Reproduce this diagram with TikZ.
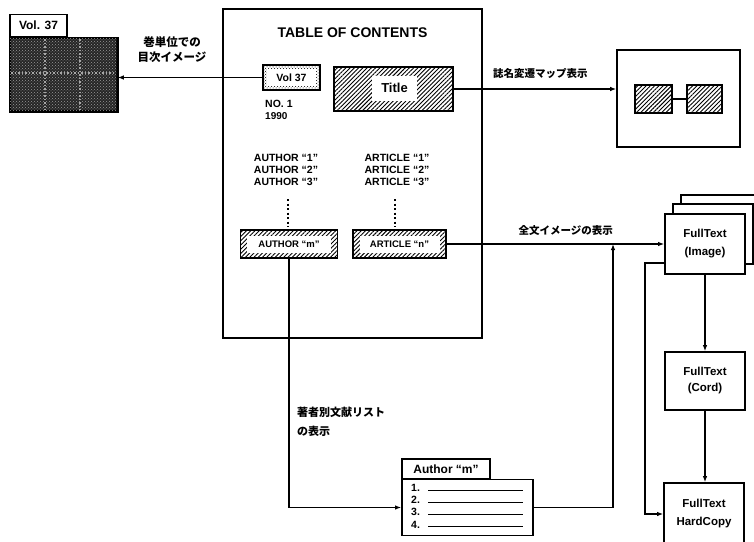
\documentclass[tikz,border=0pt]{standalone}
\usepackage{fontspec}
\setmainfont{Liberation Sans}
\newfontfamily\cjk{Noto Sans CJK JP}
\usetikzlibrary{patterns,patterns.meta,arrows.meta}
\begin{document}
\begin{tikzpicture}[x=1pt,y=-1pt,
  lbl/.style={font=\bfseries\fontsize{10.5}{12}\selectfont, inner sep=0},
  jp/.style={font=\cjk\bfseries\fontsize{10.5}{15}\selectfont, inner sep=0},
  conn/.style={line width=1.1pt},
  arr/.style={conn,-{Latex[length=6pt,width=4.5pt]}},
  box/.style={draw, line width=1.8pt, fill=white, inner sep=0},
  hbox/.style={draw, line width=1.8pt, pattern={Lines[angle=45,distance=3pt,line width=0.9pt]}, inner sep=0},
  inwhite/.style={fill=white, inner sep=0},
]
\useasboundingbox (0,0) rectangle (754,541);
\clip (0,0) rectangle (754,541);

% ---- Vol. 37 volume block (top left)
\node[draw, line width=1.5pt, fill=black!85, minimum width=107pt, minimum height=73pt, inner sep=0] (volblk) at (63.5,74.5) {};
\fill[pattern=crosshatch dots, pattern color=black!40] (volblk.south west) rectangle (volblk.north east);
\draw[black!35, line width=1.5pt, dotted] (45,39) -- (45,110) (80,39) -- (80,110) (11,73) -- (116,73);
\draw[line width=1.5pt] (volblk.south west) rectangle (volblk.north east);
\node[box, line width=1.5pt, minimum width=57pt, minimum height=22pt, anchor=south west, font=\bfseries\fontsize{12}{14}\selectfont] (voltab) at (volblk.north west) {Vol. 37};

% ---- Table of contents frame
\node[draw, line width=2pt, minimum width=259pt, minimum height=329pt, inner sep=0] (toc) at (352.5,173.5) {};
\node[font=\bfseries\fontsize{14}{16}\selectfont, inner sep=0] (toctitle) at (352.5,33) {TABLE OF CONTENTS};

% Vol 37 small box
\node[draw, line width=1.6pt, pattern=crosshatch dots, minimum width=57pt, minimum height=25pt, inner sep=0] (volsm) at (291.5,77.5) {};
\node[inwhite, minimum width=49pt, minimum height=17pt, font=\bfseries\fontsize{10.5}{12}\selectfont] (volsmt) at (volsm.center) {Vol 37};
\node[lbl, anchor=west, font=\bfseries\fontsize{10.5}{12}\selectfont] (no1) at (265,104) {NO. 1};
\node[lbl, anchor=west, font=\bfseries\fontsize{10}{12}\selectfont] (yr) at (265,116) {1990};

% Title box
\node[hbox, minimum width=119pt, minimum height=44pt] (titlebox) at (393.5,89) {};
\node[inwhite, minimum width=45pt, minimum height=25pt, font=\bfseries\fontsize{13}{15}\selectfont] (titletxt) at (394.5,88) {Title};

% Authors / articles
\node[lbl, align=center] (auth) at (286,170) {AUTHOR ``1''\\AUTHOR ``2''\\AUTHOR ``3''};
\node[lbl, align=center] (arts) at (397,170) {ARTICLE ``1''\\ARTICLE ``2''\\ARTICLE ``3''};
\coordinate (d1a) at (288,199); \coordinate (d1b) at (288,227);
\coordinate (d2a) at (395,199); \coordinate (d2b) at (395,227);
\draw[line width=2pt, dash pattern=on 2pt off 2.5pt] (d1a) -- (d1b);
\draw[line width=2pt, dash pattern=on 2pt off 2.5pt] (d2a) -- (d2b);

\node[hbox, minimum width=97pt, minimum height=28pt] (amo) at (289,244) {};
\node[inwhite, minimum width=84pt, minimum height=17pt, font=\bfseries\fontsize{9.5}{11}\selectfont] (am) at (amo.center) {AUTHOR ``m''};
\node[hbox, minimum width=93pt, minimum height=28pt] (ano) at (399.5,244) {};
\node[inwhite, minimum width=80pt, minimum height=17pt, font=\bfseries\fontsize{9.5}{11}\selectfont] (an) at (ano.center) {ARTICLE ``n''};

% ---- Map box
\node[draw, line width=1.6pt, minimum width=123pt, minimum height=97pt, inner sep=0] (map) at (678.5,98.5) {};
\node[hbox, minimum width=37pt, minimum height=28pt] (m1) at (653.5,99) {};
\node[hbox, minimum width=35pt, minimum height=28pt] (m2) at (704.5,99) {};
\draw[line width=1.6pt] (m1.east) -- (m2.west);

% ---- Full text boxes
\node[box, line width=1.6pt, minimum width=80pt, minimum height=60pt] (p2) at (721,225) {};
\node[box, line width=1.6pt, minimum width=80pt, minimum height=60pt] (p1) at (713,234) {};
\node[box, line width=1.8pt, minimum width=80pt, minimum height=60pt, align=center, font=\bfseries\fontsize{11.5}{18}\selectfont] (img) at (705,244) {FullText\\(Image)};
\node[box, line width=1.8pt, minimum width=80pt, minimum height=58pt, align=center, font=\bfseries\fontsize{11.5}{16}\selectfont] (cord) at (705,381) {FullText\\(Cord)};
\node[box, line width=1.8pt, minimum width=80pt, minimum height=62pt, align=center, font=\bfseries\fontsize{11.5}{18}\selectfont] (hard) at (704,514) {FullText\\HardCopy};

% ---- Author list
\node[box, line width=1.5pt, minimum width=88pt, minimum height=20pt, font=\bfseries\fontsize{12}{14}\selectfont] (ltab) at (446,469) {Author ``m''};
\node[box, line width=1.8pt, minimum width=131pt, minimum height=56pt] (lst) at (467.5,507.5) {};
\node[lbl, anchor=west] (i1) at (411,488) {1.};
\node[lbl, anchor=west] (i2) at (411,500) {2.};
\node[lbl, anchor=west] (i3) at (411,512) {3.};
\node[lbl, anchor=west] (i4) at (411,525) {4.};
\draw[line width=1pt] (428,490) -- (523,490) (428,502) -- (523,502) (428,514) -- (523,514) (428,526) -- (523,526);

% ---- Labels
\node[jp, align=center, font=\cjk\bfseries\fontsize{11.5}{15}\selectfont] (lb1) at (172,49.5) {巻単位での\\目次イメージ};
\node[jp, anchor=west] (lb2) at (493,73) {誌名変遷マップ表示};
\node[jp, anchor=east] (lb3) at (613,230) {全文イメージの表示};
\node[jp, anchor=west, align=left, font=\cjk\bfseries\fontsize{11}{19}\selectfont] (lb4) at (297,422) {著者別文献リスト\\の表示};

% ---- Connectors
\draw[arr] (volsm.west) -- (volsm.west -| volblk.east);
\draw[arr] (titlebox.east) -- (titlebox.east -| map.west);
\draw[arr] (ano.east) -- (img.west);
\draw[arr] (amo.south) |- (lst.west);
\coordinate (j1) at (613,244);
\draw[arr] (lst.east) -| (j1);
\draw[arr] (img.south) -- (img.south |- cord.north);
\draw[arr] (cord.south) -- (cord.south |- hard.north);
\coordinate (s1) at (665,263);
\coordinate (s2) at (645,263);
\draw[arr] (s1) -- (s2) |- (hard.west);
\end{tikzpicture}
\end{document}
